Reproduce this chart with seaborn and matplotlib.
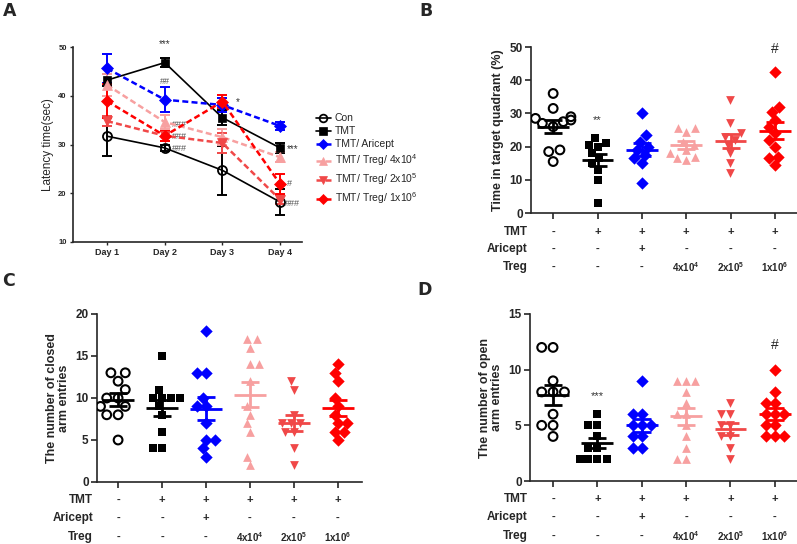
import numpy as np
import pandas as pd
import matplotlib
matplotlib.use("Agg")
import matplotlib.pyplot as plt
import matplotlib.transforms as mtransforms
import seaborn as sns

sns.set_theme(style="ticks")
plt.rcParams['font.family'] = ['Liberation Sans', 'DejaVu Sans']
plt.rcParams['axes.linewidth'] = 1.2
plt.rcParams['mathtext.fontset'] = 'custom'
plt.rcParams['mathtext.rm'] = 'Liberation Sans'
plt.rcParams['mathtext.it'] = 'Liberation Sans:italic'
plt.rcParams['mathtext.bf'] = 'Liberation Sans:bold'

# ---------------- data ----------------
days = ["Day 1", "Day 2", "Day 3", "Day 4"]
series_labels = ["Con", "TMT", "TMT/ Aricept", "TMT/ Treg/ 4x10$^4$",
                 "TMT/ Treg/ 2x10$^5$", "TMT/ Treg/ 1x10$^6$"]
lat_con = [31.7, 29.3, 24.7, 18.2]
lat_con_err = [4.0, 0.7, 5.0, 2.7]
lat_tmt = [43.2, 46.8, 35.5, 29.3]
lat_tmt_err = [1.2, 1.0, 1.5, 1.0]
lat_ari = [45.6, 39.2, 38.1, 33.8]
lat_ari_err = [3.0, 2.5, 1.5, 0.8]
lat_t4 = [42.2, 34.6, 31.5, 27.4]
lat_t4_err = [2.2, 1.5, 1.7, 1.0]
lat_t2 = [34.8, 31.8, 30.3, 18.7]
lat_t2_err = [1.0, 1.0, 2.0, 1.0]
lat_t1 = [38.9, 31.8, 38.8, 21.9]
lat_t1_err = [3.5, 1.0, 1.3, 2.0]

groups = ["Con", "TMT", "Aricept", "T4", "T2", "T1"]
row_tmt = ["-", "+", "+", "+", "+", "+"]
row_aricept = ["-", "-", "+", "-", "-", "-"]
row_treg = ["-", "-", "-", r"4x10$^{\mathbf{4}}$", r"2x10$^{\mathbf{5}}$", r"1x10$^{\mathbf{6}}$"]

quad_con = [36, 31.5, 29, 28.5, 28, 27.5, 27, 26, 19, 18.5, 15.5]
quad_tmt = [22.5, 21, 20.5, 20, 18, 16.5, 15, 13, 10, 3]
quad_ari = [30, 23.5, 21.5, 20, 19, 17.5, 16.5, 15, 9]
quad_t4 = [25.5, 25.5, 24.5, 21.5, 20.5, 19, 18, 17, 16.5, 16]
quad_t2 = [34, 27, 24, 23, 22, 20.5, 18, 15, 12]
quad_t1 = [42.5, 32, 30.5, 28, 26, 24, 22, 20, 17, 16.5, 14.5]

closed_con = [13, 13, 12, 11, 10, 10, 9, 9, 8, 8, 5]
closed_tmt = [15, 11, 10, 10, 10, 10, 9, 8, 6, 4, 4]
closed_ari = [18, 13, 13, 10, 9, 9, 7, 5, 5, 4, 3]
closed_t4 = [17, 17, 16, 14, 14, 12, 9, 8, 7, 6, 3, 2]
closed_t2 = [12, 11, 8, 7, 7, 7, 6, 6, 4, 2]
closed_t1 = [14, 13, 12, 10, 9, 8, 7, 7, 6, 6, 5]

open_con = [12, 12, 9, 8, 8, 8, 6, 5, 5, 4]
open_tmt = [6, 5, 5, 4, 3, 3, 2, 2, 2, 2]
open_ari = [9, 6, 6, 5, 5, 5, 4, 4, 3, 3]
open_t4 = [9, 9, 9, 8, 7, 6, 6, 5, 4, 3, 2, 2]
open_t2 = [7, 6, 6, 5, 5, 4, 4, 3, 2]
open_t1 = [10, 8, 7, 7, 6, 6, 6, 5, 5, 4, 4, 4]

# ---------------- styles ----------------
colors = ["black", "black", "#0000FF", "#F7A0A0", "#F04848", "#FF0000"]
markers = ["o", "s", "D", "^", "v", "D"]

W, H = 797, 544
fig = plt.figure(figsize=(W / 100, H / 100), dpi=100)

def px_axes(l, t, r, b):
    return fig.add_axes([l / W, 1 - b / H, (r - l) / W, (b - t) / H])

# ---------------- Panel A ----------------
axA = px_axes(73, 47, 302, 242)
xd = np.arange(len(days))
lat_vals = [lat_con, lat_tmt, lat_ari, lat_t4, lat_t2, lat_t1]
lat_errs = [lat_con_err, lat_tmt_err, lat_ari_err, lat_t4_err, lat_t2_err, lat_t1_err]
lstyles = ["-", "-", (0, (2.4, 1.3)), (0, (2.4, 1.3)), (0, (2.4, 1.3)), (0, (2.4, 1.3))]
lwidths = [1.2, 1.2, 1.8, 1.8, 1.8, 1.8]
msizes = [6.5, 6, 6, 6.5, 6.5, 6]
for i in range(6):
    axA.errorbar(xd, lat_vals[i], yerr=lat_errs[i], fmt="none", ecolor=colors[i],
                 elinewidth=1.4, capsize=3.8, capthick=1.4, zorder=2 + i * 0.1)
    kw = dict(markerfacecolor="none" if i == 0 else colors[i],
              markeredgecolor=colors[i], markeredgewidth=1.3 if i == 0 else 0.5)
    sns.lineplot(x=xd, y=lat_vals[i], color=colors[i], marker=markers[i],
                 markersize=msizes[i], linestyle=lstyles[i], linewidth=lwidths[i],
                 label=series_labels[i], ax=axA, zorder=3 + i * 0.1, **kw)
axA.set_xlim(-0.59, 3.38)
axA.set_ylim(10, 50)
axA.set_yticks([10, 20, 30, 40, 50])
axA.set_xticks(xd)
axA.set_xticklabels(days, fontsize=6.5, fontweight="bold")
for lab in axA.get_yticklabels():
    lab.set_fontsize(5.5)
    lab.set_fontweight("bold")
axA.tick_params(axis="both", length=2.5, width=1, pad=2)
axA.set_ylabel("Latency time(sec)", fontsize=8.5, labelpad=3)
axA.set_xlabel("")
sns.despine(ax=axA)
axA.legend(loc="upper left", bbox_to_anchor=(312 / W, 1 - 109 / H),
           bbox_transform=fig.transFigure, frameon=False, fontsize=7.5,
           handlelength=1.4, handletextpad=0.4, labelspacing=0.3, borderaxespad=0,
           markerscale=0.85)

gray = "#555555"
axA.text(1, 50.6, "***", ha="center", va="center", fontsize=7, color="#333333")
axA.text(1, 43.0, "##", ha="center", va="center", fontsize=6.5, color=gray)
axA.text(1.12, 34.2, "###", ha="left", va="center", fontsize=6.5, color=gray)
axA.text(1.12, 31.6, "###", ha="left", va="center", fontsize=6.5, color=gray)
axA.text(1.12, 29.2, "###", ha="left", va="center", fontsize=6.5, color=gray)
axA.text(2.27, 38.6, "*", ha="center", va="center", fontsize=7, color="#333333")
axA.text(3.12, 29.0, "***", ha="left", va="center", fontsize=7, color="#333333")
axA.text(3.12, 22.1, "#", ha="left", va="center", fontsize=6.5, color=gray)
axA.text(3.08, 18.0, "###", ha="left", va="center", fontsize=6.5, color=gray)

# ---------------- dot panels ----------------
def dot_panel(ax, vals_list, ylim, yticks, ylabel, xlim, rows_y, label_x):
    for i, vals in enumerate(vals_list):
        df = pd.DataFrame({"group": groups[i], "value": vals})
        kw = {}
        if i == 0:
            kw = dict(facecolor="none", edgecolor="black", linewidth=1.5)
        sns.swarmplot(data=df, x="group", y="value", order=groups, marker=markers[i],
                      color=colors[i], size=6.3, ax=ax, zorder=3, **kw)
        arr = np.asarray(vals, dtype=float)
        m = arr.mean()
        se = arr.std(ddof=1) / np.sqrt(len(arr))
        ax.hlines(m, i - 0.36, i + 0.36, color=colors[i], lw=2, zorder=5)
        ax.errorbar(i, m, yerr=se, fmt="none", ecolor=colors[i], elinewidth=2,
                    capsize=6.5, capthick=2, zorder=5)
    ax.set_xlim(*xlim)
    ax.set_ylim(*ylim)
    ax.set_yticks(yticks)
    ax.set_xticks(range(len(groups)))
    ax.set_xticklabels([])
    ax.set_xlabel("")
    ax.set_ylabel(ylabel, fontsize=9, fontweight="bold", labelpad=4, linespacing=1.0)
    for lab in ax.get_yticklabels():
        lab.set_fontsize(8.5)
        lab.set_fontweight("bold")
    ax.tick_params(axis="both", length=4, width=1.2, pad=2)
    sns.despine(ax=ax)
    tr = mtransforms.blended_transform_factory(ax.transData, ax.transAxes)
    for name, row, yy in zip(["TMT", "Aricept", "Treg"],
                             [row_tmt, row_aricept, row_treg], rows_y):
        ax.text(label_x, yy, name, transform=tr, ha="right", va="center",
                fontsize=8.5, fontweight="bold")
        for j, t in enumerate(row):
            ax.text(j, yy, t, transform=tr, ha="center", va="center",
                    fontsize=8 if t in "+-" else 7, fontweight="bold")

axB = px_axes(531, 47, 797, 213)
dot_panel(axB, [quad_con, quad_tmt, quad_ari, quad_t4, quad_t2, quad_t1],
          (0, 50), [0, 10, 20, 30, 40, 50], "Time in target quadrant (%)",
          (-0.5, 5.5), [-0.114, -0.217, -0.325], -0.57)
axB.text(1, 28.0, "**", ha="center", va="center", fontsize=8, color="#333333")
axB.text(5, 49.5, "#", ha="center", va="center", fontsize=10)

axC = px_axes(97, 314, 362, 482)
dot_panel(axC, [closed_con, closed_tmt, closed_ari, closed_t4, closed_t2, closed_t1],
          (0, 20), [0, 5, 10, 15, 20], "The number of closed\narm entries",
          (-0.48, 5.55), [-0.107, -0.214, -0.327], -0.57)

axD = px_axes(530, 314, 797, 481)
dot_panel(axD, [open_con, open_tmt, open_ari, open_t4, open_t2, open_t1],
          (0, 15), [0, 5, 10, 15], "The number of open\narm entries",
          (-0.52, 5.5), [-0.107, -0.214, -0.327], -0.57)
axD.text(1, 7.6, "***", ha="center", va="center", fontsize=8, color="#333333")
axD.text(5, 12.2, "#", ha="center", va="center", fontsize=10)

# panel letters
for letter, x, y in [("A", 3, 11), ("B", 419, 11), ("C", 2, 281), ("D", 417, 290)]:
    fig.text(x / W, 1 - y / H, letter, fontsize=12.5, fontweight="bold",
             family=["DejaVu Sans"], ha="left", va="center")

fig.savefig("out.png", dpi=100)
